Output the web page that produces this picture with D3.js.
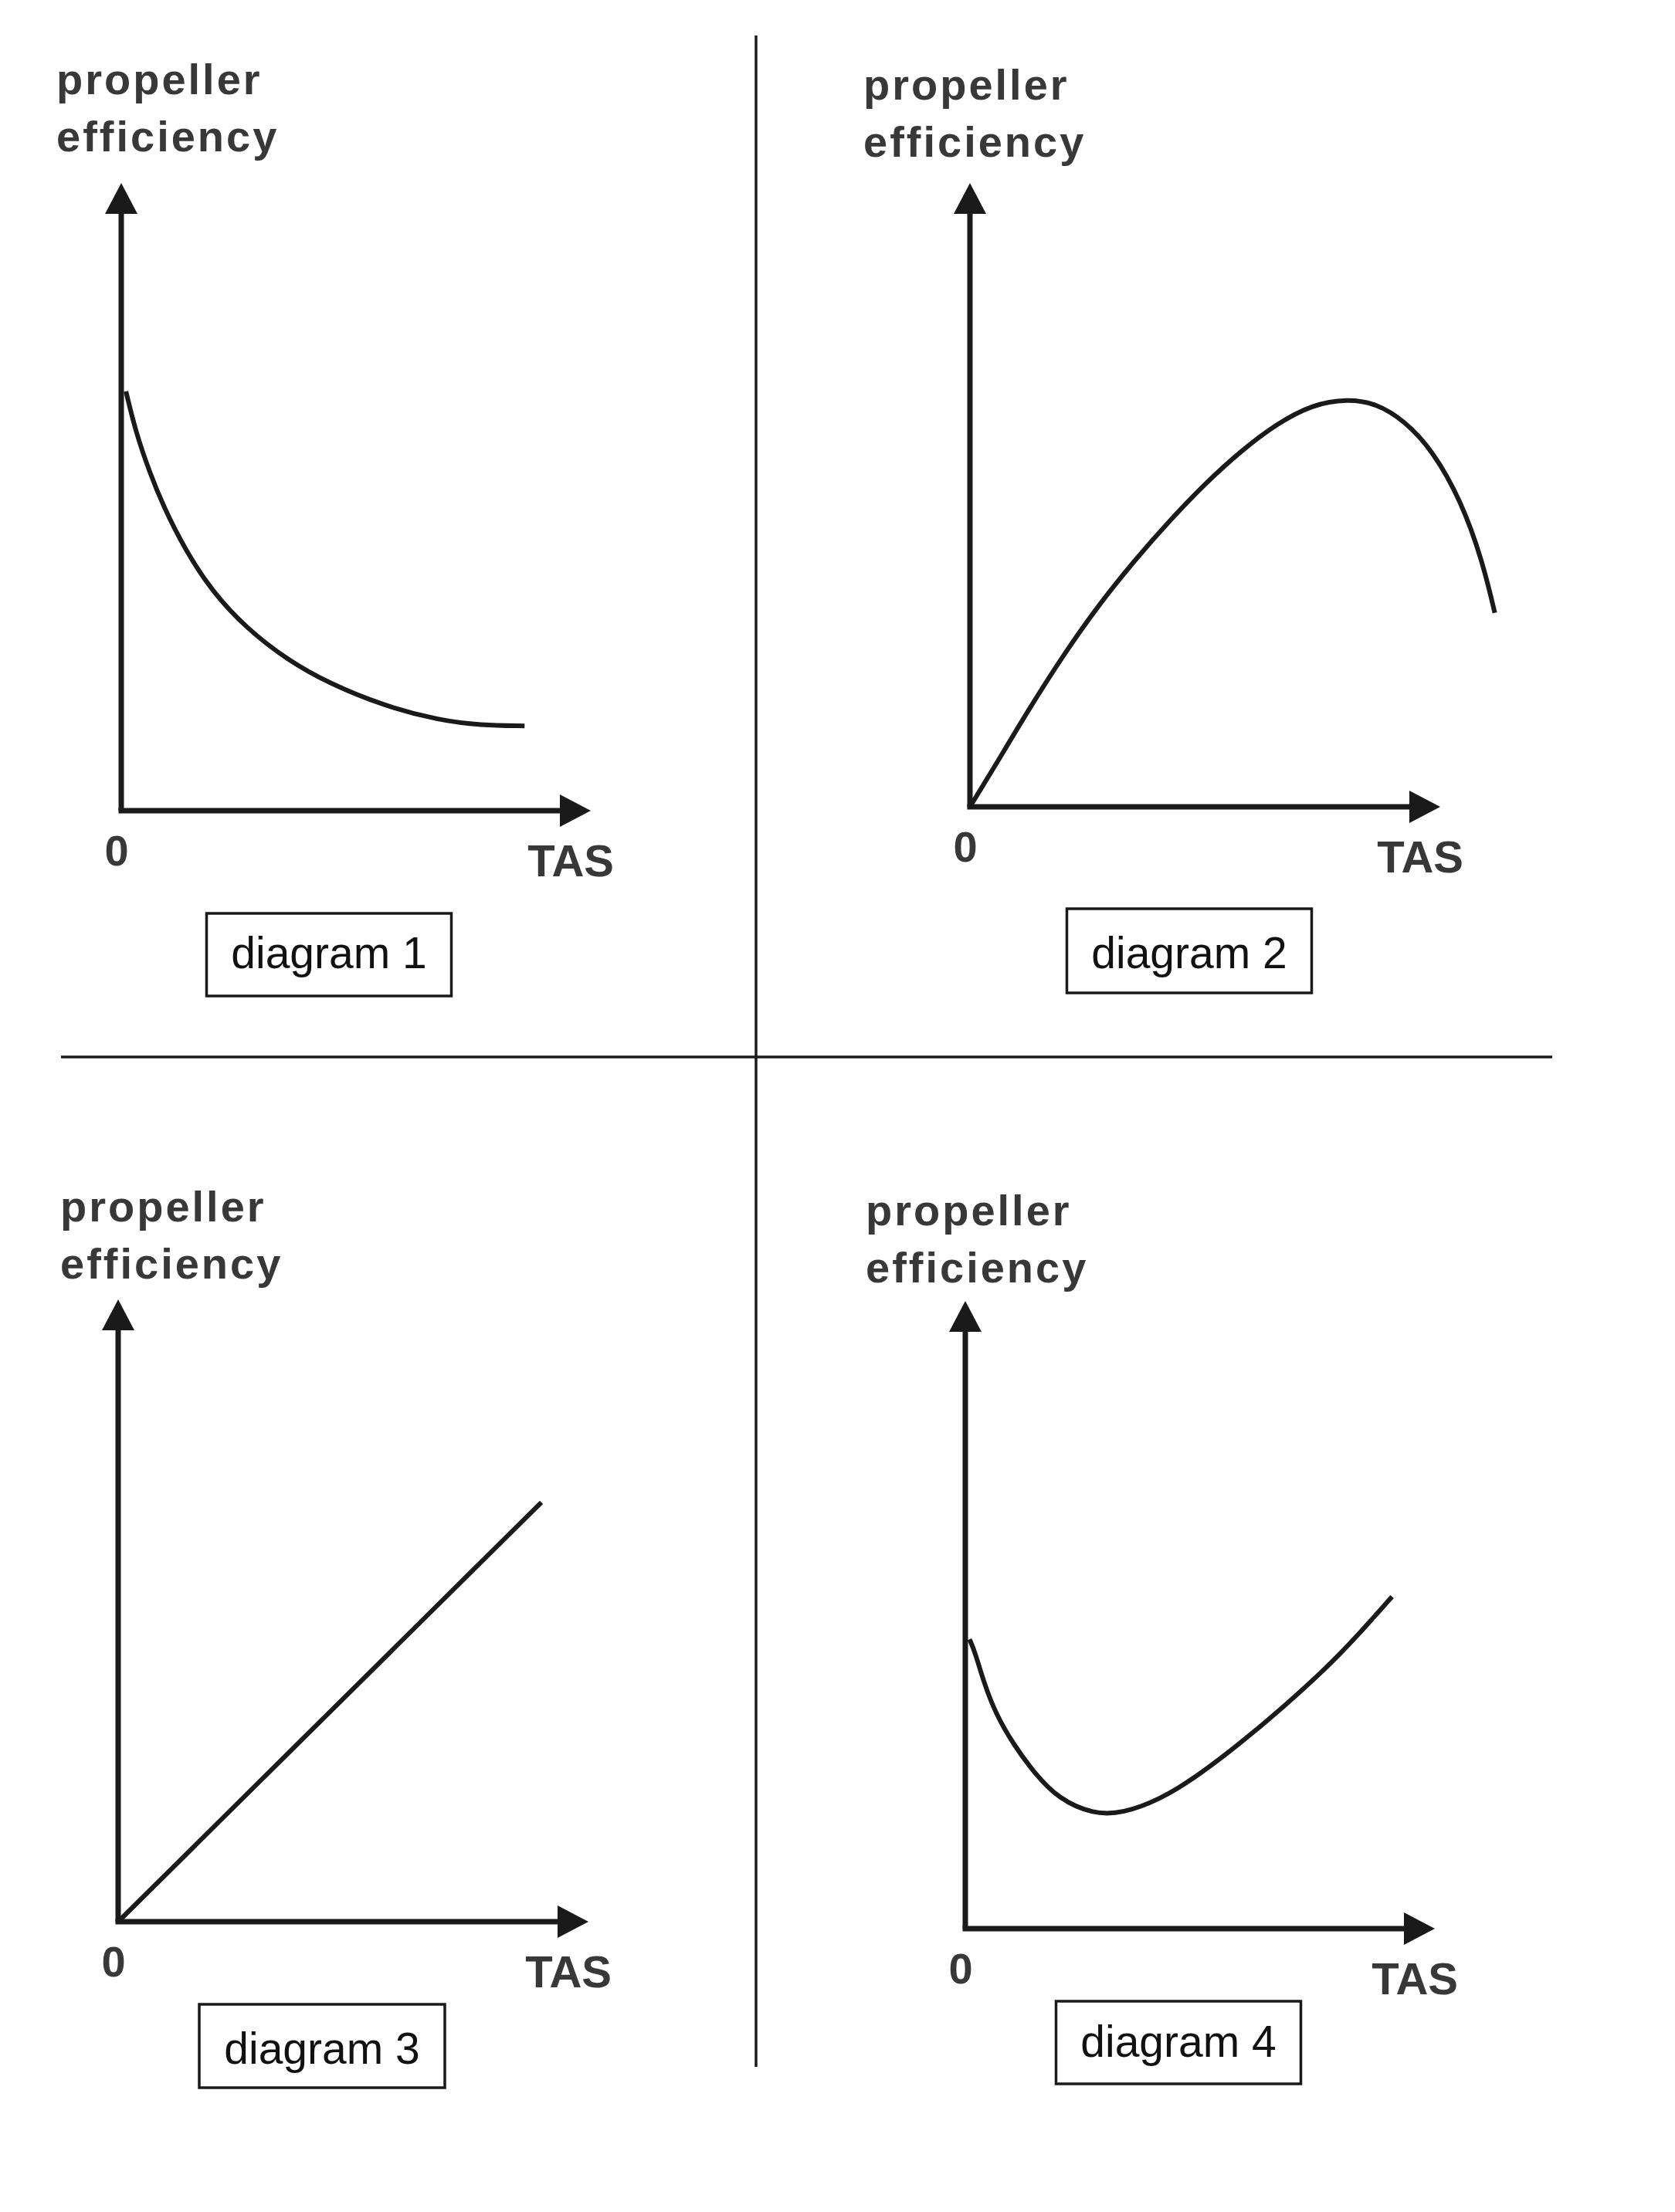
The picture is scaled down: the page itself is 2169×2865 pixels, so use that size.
<!DOCTYPE html>
<html>
<head>
<meta charset="utf-8">
<script src="https://cdn.jsdelivr.net/npm/d3@7"></script>
<style>
  html, body { margin: 0; padding: 0; background: #fff; }
  svg { display: block; }
</style>
</head>
<body>
<script>
// ---------------- DATA ----------------
const diagramNames = ["diagram 1", "diagram 2", "diagram 3", "diagram 4"];
const yLabelLines = ["propeller", "efficiency"];
const xLabel = "TAS";
const originLabel = "0";

// propeller efficiency vs TAS, relative units (0..100 of each axis length)
const curve1 = [[1,66.8],[3.1,60.3],[6,54],[8.9,48.6],[13.7,41.4],[19.5,34.8],[26.6,29.1],[35.4,24],[44.2,20.3],[55.9,16.7],[67.7,14.4],[76.5,13.6],[85.9,13.5]];
const curve2 = [[0,0],[4.9,6],[12.4,15.5],[20,24.5],[27.5,32.5],[35.1,39.6],[42.6,46],[50.1,51.9],[57.7,57.1],[65.2,61.4],[72.8,64.5],[80.3,65.4],[86.3,64.7],[92.4,61.9],[98.4,57.1],[104.4,49.1],[108.9,39.6],[111.6,31.1]];
const curve3 = [[0,0],[90,67.4]];
const curve4 = [[0.9,46.1],[2.1,44],[4,39.1],[6.5,34.2],[10.3,29.3],[14.7,24.8],[19.8,20.7],[27.3,18.2],[33.6,18.4],[41.2,20.5],[48.7,23.9],[58.2,29.3],[67.6,35.2],[77,41.6],[83.3,46.5],[90.9,52.9]];
const curves = [curve1, curve2, curve3, curve4];

// ---------------- LAYOUT ----------------
const W = 2169, H = 2865;
const layout = [
  { ox: 157,  oy: 1050, xTip: 765,  yTip: 237,  labX: 73,   labY: 122,  boxCx: 426,  boxTop: 1183, boxH: 107, boxW: 317, textY: 1254 },
  { ox: 1256, oy: 1045, xTip: 1865, yTip: 237,  labX: 1118, labY: 129,  boxCx: 1540, boxTop: 1177, boxH: 109, boxW: 317, textY: 1254 },
  { ox: 153,  oy: 2489, xTip: 762,  yTip: 1683, labX: 78,   labY: 1582, boxCx: 417,  boxTop: 2596, boxH: 108, boxW: 318, textY: 2673 },
  { ox: 1250, oy: 2498, xTip: 1858, yTip: 1685, labX: 1121, labY: 1587, boxCx: 1526, boxTop: 2592, boxH: 107, boxW: 317, textY: 2664 }
];

const lineColor = "#1a1a1a";
const textColor = "#383838";
const arrowLen = 40, arrowHalf = 21;

const svg = d3.select("body").append("svg")
  .attr("width", W).attr("height", H)
  .attr("viewBox", `0 0 ${W} ${H}`);

svg.append("rect").attr("width", W).attr("height", H).attr("fill", "#fff");

// dividers
svg.append("line").attr("x1", 979).attr("x2", 979).attr("y1", 46).attr("y2", 2677)
  .attr("stroke", lineColor).attr("stroke-width", 3.5);
svg.append("line").attr("x1", 79).attr("x2", 2010).attr("y1", 1369).attr("y2", 1369)
  .attr("stroke", lineColor).attr("stroke-width", 3.5);

layout.forEach((L, i) => {
  const x = d3.scaleLinear().domain([0, 100]).range([L.ox, L.xTip]);
  const y = d3.scaleLinear().domain([0, 100]).range([L.oy, L.yTip]);
  const g = svg.append("g");

  // axes
  g.append("line")
    .attr("x1", x(0) - 3.5).attr("y1", y(0))
    .attr("x2", x(100) - arrowLen / 2).attr("y2", y(0))
    .attr("stroke", lineColor).attr("stroke-width", 7);
  g.append("line")
    .attr("x1", x(0)).attr("y1", y(0))
    .attr("x2", x(0)).attr("y2", y(100) + arrowLen / 2)
    .attr("stroke", lineColor).attr("stroke-width", 7);
  // arrowheads
  g.append("path")
    .attr("d", `M${x(100)},${y(0)} L${x(100) - arrowLen},${y(0) - arrowHalf} L${x(100) - arrowLen},${y(0) + arrowHalf} Z`)
    .attr("fill", lineColor);
  g.append("path")
    .attr("d", `M${x(0)},${y(100)} L${x(0) - arrowHalf},${y(100) + arrowLen} L${x(0) + arrowHalf},${y(100) + arrowLen} Z`)
    .attr("fill", lineColor);

  // curve
  const line = d3.line()
    .x(d => x(d[0])).y(d => y(d[1]))
    .curve(d3.curveBasis);
  g.append("path")
    .datum(curves[i])
    .attr("d", line)
    .attr("fill", "none")
    .attr("stroke", lineColor)
    .attr("stroke-width", 6)
    .attr("stroke-linecap", "butt")
    .attr("stroke-linejoin", "round");

  // y label
  const lab = g.append("text")
    .attr("x", L.labX).attr("y", L.labY)
    .attr("font-family", "'Liberation Sans', Arial, sans-serif")
    .attr("font-weight", "bold")
    .attr("font-size", 56)
    .attr("letter-spacing", 3)
    .attr("fill", textColor);
  yLabelLines.forEach((t, k) => {
    lab.append("tspan").attr("x", L.labX).attr("y", L.labY + k * 74).text(t);
  });

  // origin label
  g.append("text")
    .attr("x", x(0) - 6).attr("y", y(0) + 71)
    .attr("text-anchor", "middle")
    .attr("font-family", "'Liberation Sans Narrow', 'Liberation Sans', Arial, sans-serif")
    .attr("font-weight", "bold").attr("font-size", 56)
    .attr("fill", textColor)
    .text(originLabel);

  // x label
  g.append("text")
    .attr("x", x(100) + 30).attr("y", y(0) + 85)
    .attr("text-anchor", "end")
    .attr("font-family", "'Liberation Sans', Arial, sans-serif")
    .attr("font-weight", "bold").attr("font-size", 58)
    .attr("fill", textColor)
    .text(xLabel);

  // diagram box
  g.append("rect")
    .attr("x", L.boxCx - L.boxW / 2).attr("y", L.boxTop)
    .attr("width", L.boxW).attr("height", L.boxH)
    .attr("fill", "#fff").attr("stroke", lineColor).attr("stroke-width", 3.5);
  g.append("text")
    .attr("x", L.boxCx).attr("y", L.textY)
    .attr("text-anchor", "middle")
    .attr("font-family", "'Liberation Sans', Arial, sans-serif")
    .attr("font-size", 57)
    .attr("fill", "#111")
    .text(diagramNames[i]);
});
</script>
</body>
</html>
